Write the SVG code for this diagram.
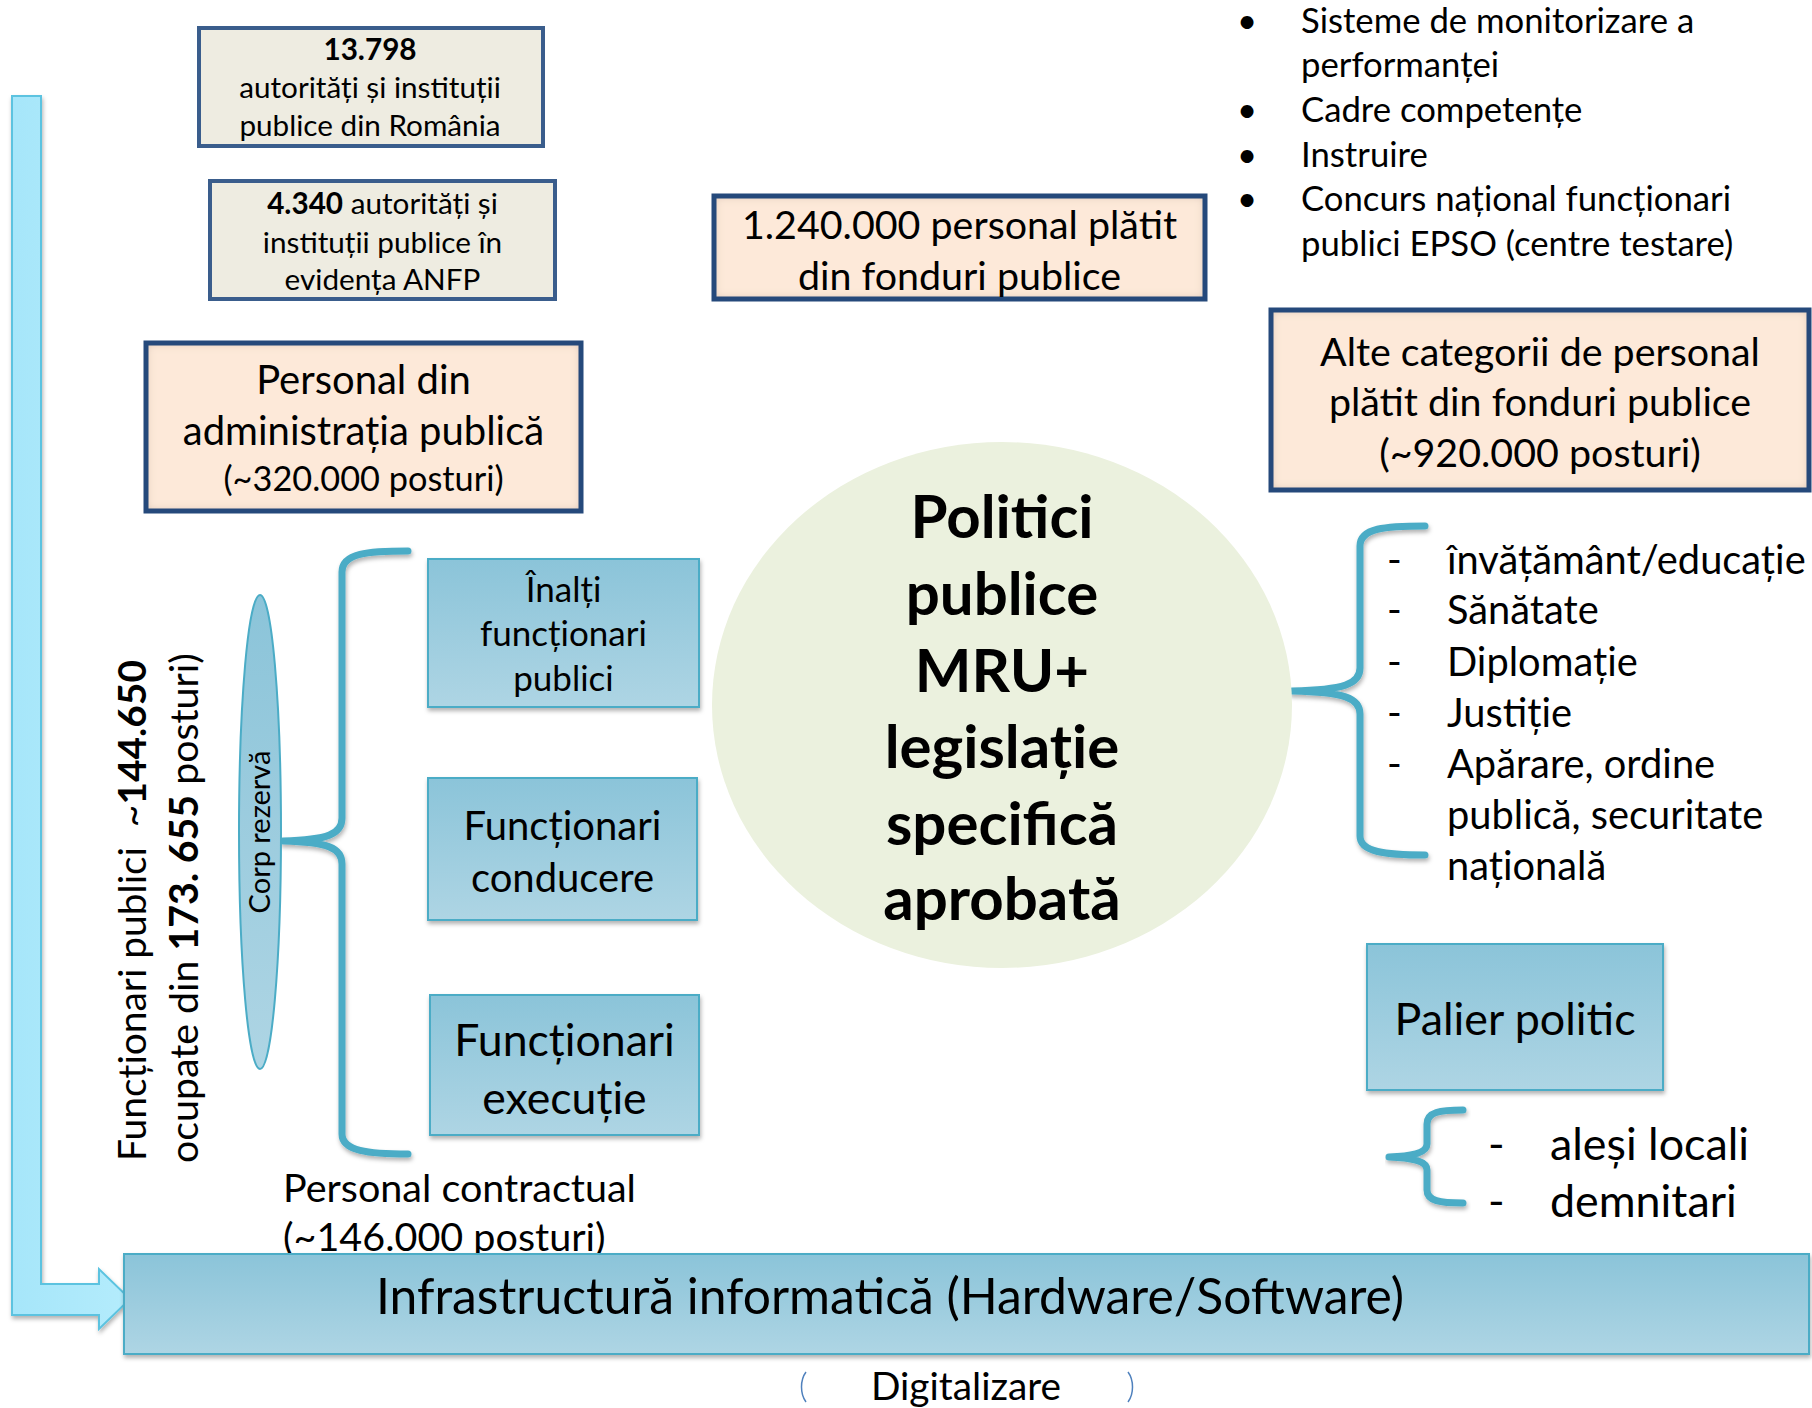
<svg xmlns="http://www.w3.org/2000/svg" width="1812" height="1408" viewBox="0 0 1812 1408">
<defs>
<style>
.t{font-family:Lato,"Liberation Sans",sans-serif;fill:#000}
.t:not([transform]){transform:translateY(2px)}
.c{text-anchor:middle}
.b{font-weight:bold}
.peach{fill:#fde9d9}
.navy{fill:none;stroke:#25497b;stroke-width:5}
.beige{fill:#eeece1;stroke:#3a5d8c;stroke-width:4}
.blue{fill:url(#blueGrad);stroke:#4bacc6;stroke-width:2}
.br{fill:none;stroke:#4bacc6;stroke-width:7;stroke-linecap:round;stroke-linejoin:round}
</style>
<linearGradient id="blueGrad" x1="0" y1="0" x2="0" y2="1"><stop offset="0" stop-color="#8bc4d9"/><stop offset="1" stop-color="#aed5e4"/></linearGradient>
<linearGradient id="arrowGrad" x1="0" y1="0" x2="1" y2="0"><stop offset="0" stop-color="#a6e6fa"/><stop offset="1" stop-color="#b4ecfc"/></linearGradient>
<filter id="inner" x="-10%" y="-10%" width="120%" height="120%">
<feFlood flood-color="#6b4a30" flood-opacity="0.45" result="f"/>
<feComposite in="f" in2="SourceAlpha" operator="out" result="o"/>
<feGaussianBlur in="o" stdDeviation="5" result="bl"/>
<feComposite in="bl" in2="SourceAlpha" operator="in" result="s"/>
<feMerge><feMergeNode in="SourceGraphic"/><feMergeNode in="s"/></feMerge>
</filter>
<filter id="shadow" x="-5%" y="-5%" width="115%" height="130%"><feDropShadow dx="1" dy="3" stdDeviation="2" flood-color="#000" flood-opacity="0.3"/></filter>
</defs>
<rect width="1812" height="1408" fill="#fff"/>

<g id="connectors">
<path id="left-arrow" d="M12,96 H41 V1284 H99 V1269 L130,1299 L99,1329 V1315 H12 Z" fill="url(#arrowGrad)" stroke="#5bc3e0" stroke-width="2" filter="url(#shadow)"/>
<path id="bracket-left" class="br" filter="url(#shadow)" d="M408,551 C368,551 342,553 342,572 L342,818 C342,834 328,840 283,841 C328,842 342,848 342,864 L342,1134 C342,1151 368,1154 408,1154"/>
<path id="bracket-right" class="br" filter="url(#shadow)" d="M1425,526 C1385,526 1360,528 1360,546 L1360,668 C1360,684 1344,690 1292,691 C1344,692 1360,698 1360,714 L1360,836 C1360,852 1385,855 1425,855"/>
<path id="bracket-small" class="br" filter="url(#shadow)" d="M1463,1110 C1440,1110 1427,1112 1427,1124 L1427,1144 C1427,1152 1415,1156 1389,1157 C1415,1158 1427,1162 1427,1170 L1427,1190 C1427,1201 1440,1203 1463,1203"/>
</g>

<g id="node-13798">
<rect x="199" y="28" width="344" height="118" class="beige"/>
<text class="t c b" x="370" y="58" font-size="29.7">13.798</text>
<text class="t c" x="370" y="96" font-size="29.7">autorități și instituții</text>
<text class="t c" x="370" y="134" font-size="29.7">publice din România</text>
</g>

<g id="node-4340">
<rect x="210" y="181" width="345" height="118" class="beige"/>
<text class="t c" x="382.5" y="212" font-size="29.7"><tspan class="b">4.340</tspan> autorități și</text>
<text class="t c" x="382.5" y="251" font-size="29.7">instituții publice în</text>
<text class="t c" x="382.5" y="288" font-size="29.7">evidența ANFP</text>
</g>

<g id="node-personal-admin">
<rect x="146" y="343" width="435" height="168" class="peach" filter="url(#inner)"/>
<rect x="146" y="343" width="435" height="168" class="navy"/>
<text class="t c" x="363.5" y="392" font-size="40">Personal din</text>
<text class="t c" x="363.5" y="443" font-size="40">administrația publică</text>
<text class="t c" x="363.5" y="489" font-size="34.3">(~320.000 posturi)</text>
</g>

<g id="node-1240000">
<rect x="714" y="196" width="491" height="103" class="peach" filter="url(#inner)"/>
<rect x="714" y="196" width="491" height="103" class="navy"/>
<text class="t c" x="959.5" y="237" font-size="39.4">1.240.000 personal plătit</text>
<text class="t c" x="959.5" y="288" font-size="39.4">din fonduri publice</text>
</g>

<g id="node-alte-categorii">
<rect x="1271" y="310" width="538" height="180" class="peach" filter="url(#inner)"/>
<rect x="1271" y="310" width="538" height="180" class="navy"/>
<text class="t c" x="1540" y="364" font-size="39.4">Alte categorii de personal</text>
<text class="t c" x="1540" y="414" font-size="39.4">plătit din fonduri publice</text>
<text class="t c" x="1540" y="465" font-size="39.4">(~920.000 posturi)</text>
</g>

<g id="bullets-top-right" class="t" font-size="34.7">
<text x="1247" y="31" class="c">•</text>
<text x="1301" y="31">Sisteme de monitorizare a</text>
<text x="1301" y="75">performanței</text>
<text x="1247" y="120" class="c">•</text>
<text x="1301" y="120">Cadre competențe</text>
<text x="1247" y="165" class="c">•</text>
<text x="1301" y="165">Instruire</text>
<text x="1247" y="209" class="c">•</text>
<text x="1301" y="209">Concurs național funcționari</text>
<text x="1301" y="254">publici EPSO (centre testare)</text>
</g>

<g id="node-politici">
<ellipse cx="1002" cy="705" rx="290" ry="263" fill="#ebf1de"/>
<text class="t c b" x="1002" y="536" font-size="60">Politici</text>
<text class="t c b" x="1002" y="613" font-size="60">publice</text>
<text class="t c b" x="1002" y="690" font-size="60">MRU+</text>
<text class="t c b" x="1002" y="766" font-size="60">legislație</text>
<text class="t c b" x="1002" y="843" font-size="60">specifică</text>
<text class="t c b" x="1002" y="918" font-size="60">aprobată</text>
</g>

<g id="label-functionari-publici" class="t">
<text transform="translate(146,1159) rotate(-90)" font-size="38.9" style="white-space:pre">Funcționari publici  ~<tspan class="b">144.650</tspan></text>
<text transform="translate(198,1161) rotate(-90)" font-size="39.3" style="white-space:pre">ocupate din <tspan class="b">173. 655</tspan> posturi)</text>
</g>

<g id="node-corp-rezerva">
<ellipse cx="260" cy="832" rx="21" ry="237" fill="url(#blueGrad)" stroke="#4bacc6" stroke-width="2"/>
<text class="t c" transform="translate(270,832) rotate(-90)" font-size="29">Corp rezervă</text>
</g>

<g id="node-inalti">
<rect x="428" y="559" width="271" height="148" class="blue" filter="url(#shadow)"/>
<text class="t c" x="563.5" y="600" font-size="35">Înalți</text>
<text class="t c" x="563.5" y="644" font-size="35">funcționari</text>
<text class="t c" x="563.5" y="689" font-size="35">publici</text>
</g>

<g id="node-conducere">
<rect x="428" y="778" width="269" height="142" class="blue" filter="url(#shadow)"/>
<text class="t c" x="562.5" y="838" font-size="40">Funcționari</text>
<text class="t c" x="562.5" y="890" font-size="40">conducere</text>
</g>

<g id="node-executie">
<rect x="430" y="995" width="269" height="140" class="blue" filter="url(#shadow)"/>
<text class="t c" x="564.5" y="1054" font-size="44.6">Funcționari</text>
<text class="t c" x="564.5" y="1112" font-size="44.6">execuție</text>
</g>

<g id="label-personal-contractual" class="t" font-size="39.5">
<text x="283" y="1200">Personal contractual</text>
<text x="283" y="1249">(~146.000 posturi)</text>
</g>

<g id="list-right" class="t" font-size="39.8">
<text x="1387" y="572">-</text><text x="1447" y="572">învățământ/educație</text>
<text x="1387" y="622">-</text><text x="1447" y="622">Sănătate</text>
<text x="1387" y="674">-</text><text x="1447" y="674">Diplomație</text>
<text x="1387" y="725">-</text><text x="1447" y="725">Justiție</text>
<text x="1387" y="776">-</text><text x="1447" y="776">Apărare, ordine</text>
<text x="1447" y="827">publică, securitate</text>
<text x="1447" y="878">națională</text>
</g>

<g id="node-palier-politic">
<rect x="1367" y="944" width="296" height="146" class="blue" filter="url(#shadow)"/>
<text class="t c" x="1515" y="1033" font-size="44.8">Palier politic</text>
</g>

<g id="list-politic" class="t" font-size="44.8">
<text x="1488" y="1158">-</text><text x="1550" y="1158">aleși locali</text>
<text x="1488" y="1215">-</text><text x="1550" y="1215">demnitari</text>
</g>

<g id="node-infrastructura">
<rect x="124" y="1254" width="1685" height="100" class="blue" filter="url(#shadow)"/>
<text class="t c" x="890" y="1312" font-size="49.8">Infrastructură informatică (Hardware/Software)</text>
</g>

<g id="label-digitalizare">
<path d="M806,1372 C800,1380 800,1394 806,1402" fill="none" stroke="#4f81bd" stroke-width="1.5"/>
<path d="M1128,1372 C1134,1380 1134,1394 1128,1402" fill="none" stroke="#4f81bd" stroke-width="1.5"/>
<text class="t c" x="966" y="1398" font-size="38.8">Digitalizare</text>
</g>
</svg>
